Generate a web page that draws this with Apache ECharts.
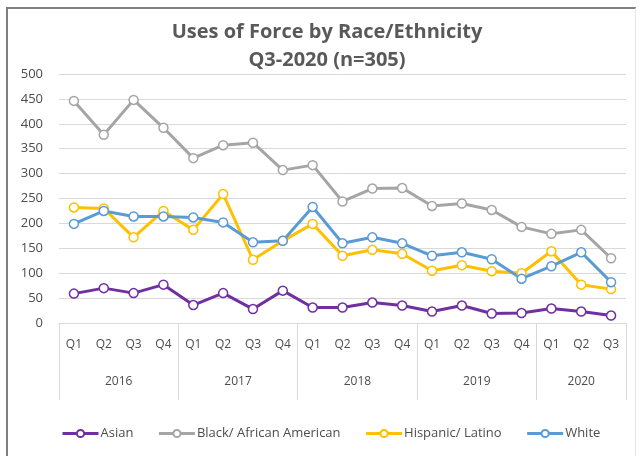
<!DOCTYPE html>
<html>
<head>
<meta charset="utf-8">
<script src="https://cdn.jsdelivr.net/npm/echarts@6/dist/echarts.min.js"></script>
<style>
html,body{margin:0;padding:0;background:#fff;}
#frame{position:absolute;left:6px;top:7px;width:630px;height:460px;border-left:2px solid #7f7f7f;border-top:2px solid #7f7f7f;border-right:1px solid #e6e6e6;box-sizing:border-box;}
#chart{position:absolute;left:0;top:0;width:643px;height:456px;}
</style>
</head>
<body>
<div id="frame"></div>
<div id="chart"></div>
<script>
const quarters = ["Q1","Q2","Q3","Q4","Q1","Q2","Q3","Q4","Q1","Q2","Q3","Q4","Q1","Q2","Q3","Q4","Q1","Q2","Q3"];
const years = ["2016","2017","2018","2019","2020"];
const yearQuarterCounts = [4,4,4,4,3];
const asian = [59,70,60,77,36,60,28,65,31,31,41,35,23,35,19,20,29,23,15];
const black = [446,378,448,392,331,357,362,307,317,244,270,271,235,240,227,193,179,187,130];
const hispanic = [232,230,172,225,187,259,127,165,199,135,147,139,105,116,104,100,144,77,68];
const white = [199,225,214,214,212,202,162,165,233,160,172,160,135,142,128,89,114,142,82];

// year boundary and center positions (in quarter units) derived from counts
const yearBounds = [0];
const yearCenters = [];
yearQuarterCounts.forEach(function(c){
  const start = yearBounds[yearBounds.length-1];
  yearCenters.push(start + c/2);
  yearBounds.push(start + c);
});

const textColor = '#595959';
const font = 'Open Sans';

function mk(name, data, color){
  return {
    name: name, type: 'line', data: data, xAxisIndex: 0,
    symbol: 'circle', symbolSize: 9,
    lineStyle: {width: 3, color: color},
    itemStyle: {color: '#fff', borderColor: color, borderWidth: 1.5},
    color: color
  };
}

const chart = echarts.init(document.getElementById('chart'));
chart.setOption({
  animation: false,
  textStyle: {fontFamily: font},
  title: {
    text: 'Uses of Force by Race/Ethnicity\nQ3-2020 (n=305)',
    left: 327, top: 18, padding: 0, textAlign: 'center',
    textStyle: {fontFamily: font, fontSize: 20, fontWeight: 'bold', color: textColor, lineHeight: 28}
  },
  grid: {left: 59, right: 17, top: 74, bottom: 133, containLabel: false},
  legend: {
    top: 427, left: 61, padding: 0,
    itemWidth: 36, itemHeight: 9, itemGap: 24,
    lineStyle: {width: 3},
    textStyle: {fontFamily: font, fontSize: 13, color: '#4d4d4d', padding: [0,0,0,-3]},
    data: ['Asian','Black/ African American','Hispanic/ Latino','White']
  },
  xAxis: [
    {
      type: 'category', data: quarters, position: 'bottom',
      axisLine: {show: true, lineStyle: {color: '#d9d9d9', width: 1}},
      axisTick: {show: false},
      axisLabel: {color: '#4d4d4d', fontSize: 12, margin: 16, fontFamily: font}
    },
    {
      type: 'value', min: 0, max: quarters.length, position: 'bottom',
      axisLine: {show: false},
      splitLine: {show: false},
      axisTick: {show: true, customValues: yearBounds, length: 77, lineStyle: {color: '#d9d9d9', width: 1}},
      axisLabel: {
        customValues: yearCenters, color: '#4d4d4d', fontSize: 12, margin: 53, fontFamily: font,
        formatter: function(v){ return years[yearCenters.indexOf(v)]; }
      }
    }
  ],
  yAxis: {
    type: 'value', min: 0, max: 500, interval: 50,
    axisLine: {show: false}, axisTick: {show: false},
    splitLine: {lineStyle: {color: '#d9d9d9', width: 1}},
    axisLabel: {color: '#4d4d4d', fontSize: 13, margin: 16, fontFamily: font}
  },
  series: [
    mk('Asian', asian, '#7030a0'),
    mk('Black/ African American', black, '#a5a5a5'),
    mk('Hispanic/ Latino', hispanic, '#ffc000'),
    mk('White', white, '#5b9bd5')
  ]
});
</script>
</body>
</html>
